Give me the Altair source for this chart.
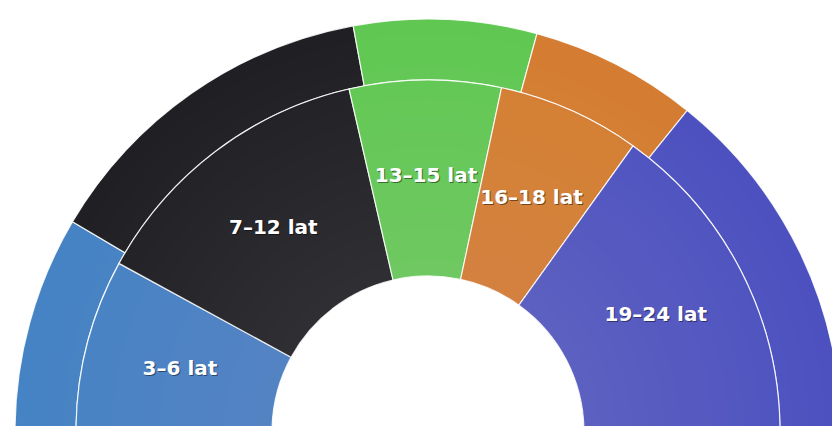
import math
import altair as alt
import pandas as pd

categories = ["3–6 lat", "7–12 lat", "13–15 lat", "16–18 lat", "19–24 lat"]
inner_values = [15.9, 26.9, 13.9, 13.1, 30.2]
outer_values = [17.0, 27.2, 14.3, 13.1, 28.4]
colors = ["#4483c4", "#1f1e22", "#5fc851", "#d47b30", "#4c50c0"]

rows = []
for i, c in enumerate(categories):
    rows.append({"ring": "inner", "kategoria": c, "wartosc": inner_values[i], "idx": i})
    rows.append({"ring": "outer", "kategoria": c, "wartosc": outer_values[i], "idx": i})
df = pd.DataFrame(rows)

CX, CY = 420, 424
R_OUT, R_MID, R_IN = 413, 352, 156
LABEL_R = 256

theta = alt.Theta("wartosc:Q", stack=True, scale=alt.Scale(range=[-math.pi / 2, math.pi / 2]))
color = alt.Color("kategoria:N", scale=alt.Scale(domain=categories, range=colors), legend=None)
order = alt.Order("idx:Q", sort="ascending")

base = alt.Chart(df)

outer = base.transform_filter(alt.datum.ring == "outer").mark_arc(
    stroke="#ffffff", strokeWidth=1.2, strokeOpacity=0.85
).encode(
    theta=theta, color=color, order=order,
    radius=alt.value(R_OUT), radius2=alt.value(R_MID),
    x=alt.value(CX), y=alt.value(CY),
)

inner = base.transform_filter(alt.datum.ring == "inner").mark_arc(
    stroke="#ffffff", strokeWidth=1.2, strokeOpacity=0.85
).encode(
    theta=theta, color=color, order=order,
    radius=alt.value(R_MID), radius2=alt.value(R_IN),
    x=alt.value(CX), y=alt.value(CY),
)

# radial shading overlay (lighter towards the centre)
shade_layers = []
N = 16
for k in range(1, N + 1):
    r = R_IN + (R_OUT - R_IN) * k / N
    shade_layers.append(
        alt.Chart(df.head(1)).mark_arc(color="#ffffff", opacity=0.009).encode(
            theta=alt.value(-math.pi / 2), theta2=alt.value(math.pi / 2),
            radius=alt.value(r), radius2=alt.value(R_IN),
            x=alt.value(CX), y=alt.value(CY),
        )
    )

text_src = base.transform_filter(alt.datum.ring == "inner")
shadow = text_src.mark_text(
    font="DejaVu Sans", fontWeight="bold", fontSize=20, color="#000000",
    opacity=0.45, dx=1, dy=1,
).encode(
    theta=theta, order=order, text="kategoria:N",
    radius=alt.value(LABEL_R), x=alt.value(CX), y=alt.value(CY),
)
labels = text_src.mark_text(
    font="DejaVu Sans", fontWeight="bold", fontSize=20, color="#ffffff",
).encode(
    theta=theta, order=order, text="kategoria:N",
    radius=alt.value(LABEL_R), x=alt.value(CX), y=alt.value(CY),
)

chart = alt.layer(outer, inner, *shade_layers, shadow, labels).properties(
    width=824, height=418, padding=0,
    autosize=alt.AutoSizeParams(type="none"),
).configure_view(stroke=None)

chart.save("out.html", embed_options={"renderer": "svg", "actions": False})
